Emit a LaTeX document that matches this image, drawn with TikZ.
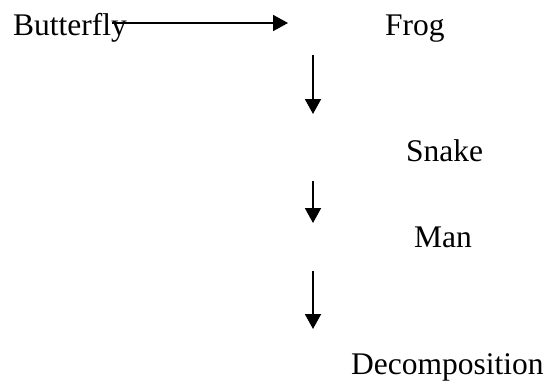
\documentclass[tikz,border=0pt]{standalone}
\usepackage{fontspec}
\setmainfont{Liberation Serif}
\usetikzlibrary{arrows.meta}
\begin{document}
\begin{tikzpicture}[x=1pt,y=-1pt,
  lbl/.style={anchor=base west,inner sep=0pt,font=\fontsize{31.5}{36}\selectfont},
  arr/.style={line width=1.9pt,-{Triangle[length=15pt,width=16pt]}}]
\useasboundingbox[fill=white] (0,0) rectangle (546,381);
\node[lbl] (butterfly) at (13,35) {Butterfly};
\node[lbl] (frog) at (385,35) {Frog};
\node[lbl] (snake) at (406,161) {Snake};
\node[lbl] (man) at (414,247) {Man};
\node[lbl] (decomp) at (351,374) {Decomposition};
\coordinate (a1s) at (112,23);
\coordinate (a1e) at (288,23);
\coordinate (a2s) at (313,55);
\coordinate (a2e) at (313,114);
\coordinate (a3s) at (313,181);
\coordinate (a3e) at (313,223);
\coordinate (a4s) at (313,271);
\coordinate (a4e) at (313,329);
\draw[arr] (a1s) -- (a1e);
\draw[arr] (a2s) -- (a2e);
\draw[arr] (a3s) -- (a3e);
\draw[arr] (a4s) -- (a4e);
\end{tikzpicture}
\end{document}
